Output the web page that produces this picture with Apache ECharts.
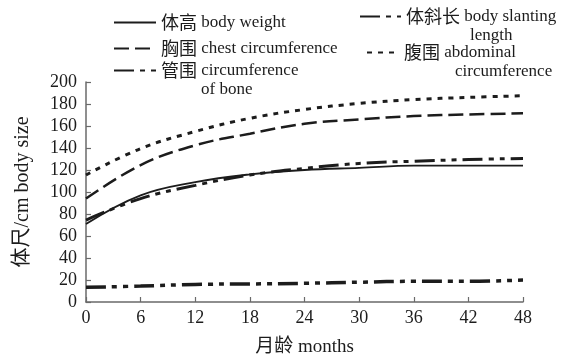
<!DOCTYPE html>
<html>
<head>
<meta charset="utf-8">
<script src="https://cdn.jsdelivr.net/npm/echarts@6/dist/echarts.min.js"></script>
<style>
    html, body { margin: 0; padding: 0; background: #fff; }
    #bodySize { width: 563px; height: 359px; }
</style>
</head>
<body>
<div id="bodySize"></div>
<script>
// 体尺随月龄变化曲线

const MONTHS = [0, 6, 12, 18, 24, 30, 36, 42, 48];
const HEIGHT = [71, 97, 109, 116, 120, 122, 124, 124, 124];
const CHEST = [94, 124.5, 142.5, 153, 162, 166, 169, 170.5, 171.5];
const BONE = [13.3, 14.5, 16, 16.4, 17, 18, 18.8, 18.8, 20];
const SLANT = [74.5, 94, 106, 115.5, 121.5, 126, 128, 129.5, 130.5];
const ABDOMEN = [115.5, 139.5, 155, 167, 175, 180.5, 184, 186, 187.5];
const Y_TICKS = [0, 200, 20];
const X_TICKS = [0, 48, 6];

(function () {

    const dom = document.getElementById("bodySize");
    const chart = echarts.init(dom);
    const FONT = "'Liberation Serif', 'Noto Sans CJK SC', serif";
    const CJK = "'Noto Sans CJK SC', sans-serif";
    const INK = "#1c1c1c";
    const AXIS = "#6a6a6a";

    const pairs = (ys) => MONTHS.map((m, i) => [m, ys[i]]);

    // legend text pieces: [cjk, latin, second line, indent]
    const LABELS = {
        "体高 body weight": ["体高", "body weight"],
        "胸围 chest circumference": ["胸围", "chest circumference"],
        "管围 circumference of bone": ["管围", "circumference", "of bone", 40],
        "体斜长 body slanting length": ["体斜长", "body slanting", "length", 64],
        "腹围 abdominal circumference": ["腹围", "abdominal", "circumference", 51]
    };

    function fmt(name) {
        const p = LABELS[name];
        const first = `{c|${p[0]}} {e|${p[1]}}`;
        if (!p[2]) return first;
        // blank line on top keeps the first line level with the icon
        return `\n${first}\n{p|${p[2]}}`;
    }

    const rich = {
        c: { fontFamily: CJK, fontSize: 18, lineHeight: 19, color: INK },
        e: { fontFamily: FONT, fontSize: 17, lineHeight: 19, color: INK },
        p: { fontFamily: FONT, fontSize: 17, lineHeight: 19, color: INK, padding: [0, 0, 0, 0] }
    };

    function legend(name, left, top, width) {
        const r = JSON.parse(JSON.stringify(rich));
        const p = LABELS[name];
        if (p[3]) r.p.padding = [0, 0, 0, p[3]];
        return {
            data: [name],
            left, top,
            padding: 0,
            itemWidth: width,
            itemHeight: 14,
            itemGap: 0,
            selectedMode: false,
            itemStyle: { opacity: 0 },
            lineStyle: { cap: "butt" },
            formatter: fmt,
            textStyle: { fontFamily: FONT, fontSize: 17, lineHeight: 19, color: INK, rich: r }
        };
    }

    function line(name, ys, type, width) {
        return {
            name,
            type: "line",
            data: pairs(ys),
            smooth: 0.4,
            symbol: "none",
            lineStyle: { color: INK, width, type, cap: "butt" },
            itemStyle: { color: INK },
            emphasis: { disabled: true }
        };
    }

    const option = {
        backgroundColor: "#fff",
        animation: false,
        legend: [
            legend("体高 body weight", 113, 13, 42),
            legend("胸围 chest circumference", 113, 39, 42),
            legend("管围 circumference of bone", 113, 42, 42),
            legend("体斜长 body slanting length", 359, -12, 41),
            legend("腹围 abdominal circumference", 366, 24, 32)
        ],
        grid: { left: 86, right: 40, top: 82, bottom: 57, containLabel: false, outerBoundsMode: "none" },
        xAxis: {
            type: "value",
            min: X_TICKS[0], max: X_TICKS[1], interval: X_TICKS[2],
            name: "月龄 months",
            nameLocation: "middle",
            nameGap: 36,
            nameTextStyle: { fontFamily: FONT, fontSize: 19, color: INK },
            axisLine: { lineStyle: { color: AXIS, width: 1.5 } },
            axisTick: { inside: true, length: 5, lineStyle: { color: AXIS, width: 1.2 } },
            axisLabel: { margin: 7, fontFamily: FONT, fontSize: 18, color: INK },
            splitLine: { show: false }
        },
        yAxis: {
            type: "value",
            min: Y_TICKS[0], max: Y_TICKS[1], interval: Y_TICKS[2],
            name: "体尺/cm body size",
            nameLocation: "middle",
            nameGap: 53,
            nameTextStyle: { fontFamily: FONT, fontSize: 20, color: INK },
            axisLine: { show: true, lineStyle: { color: AXIS, width: 1.5 } },
            axisTick: { show: true, inside: true, length: 5, lineStyle: { color: AXIS, width: 1.2 } },
            axisLabel: { margin: 9, fontFamily: FONT, fontSize: 18, color: INK },
            splitLine: { show: false }
        },
        series: [
            line("体高 body weight", HEIGHT, "solid", 1.8),
            line("胸围 chest circumference", CHEST, [15, 6], 2.5),
            line("管围 circumference of bone", BONE, [20, 6, 5, 6, 5, 6], 3.5),
            line("体斜长 body slanting length", SLANT, [20, 6, 5, 6, 5, 6], 3),
            line("腹围 abdominal circumference", ABDOMEN, [5, 6], 3)
        ]
    };

    chart.setOption(option);

})();
</script>
</body>
</html>
